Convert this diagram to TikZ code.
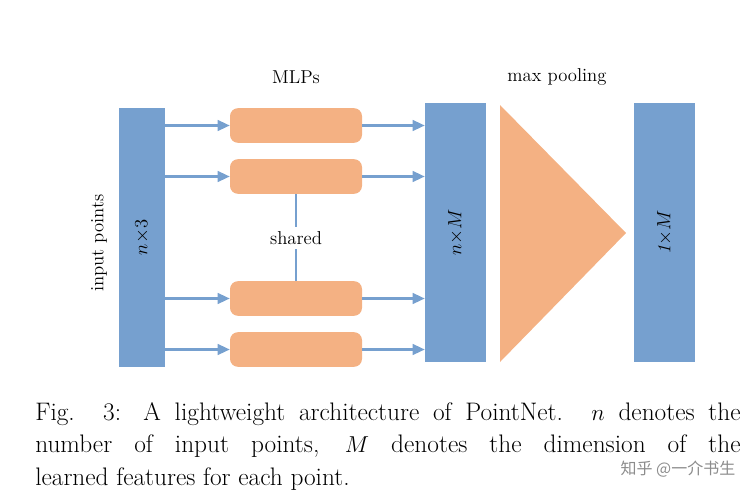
\documentclass[tikz,border=0pt]{standalone}
\usepackage{fontspec}
\newfontfamily\cjk{Noto Sans CJK SC}
\usetikzlibrary{positioning,arrows.meta}
\definecolor{barblue}{HTML}{76A0CF}
\definecolor{mlporange}{HTML}{F4B183}
\begin{document}
\begin{tikzpicture}[x=0.75pt,y=-0.75pt]
        \tikzstyle{bar}=[rectangle, fill=barblue, inner sep=0pt]
        \tikzstyle{mlp}=[rectangle, rounded corners=6pt, fill=mlporange, minimum width=99pt, minimum height=26pt, inner sep=0pt]
        \tikzstyle{flow}=[-{Triangle[length=9pt,width=8pt]}, draw=barblue, line width=1.6pt]
        \tikzstyle{lbl}=[font=\fontsize{14}{16}\selectfont]
        \useasboundingbox (0,0) rectangle (756,503);

        % Input points
        \node (inp) [bar, minimum width=34.5pt, minimum height=194pt] at (142,237.5) {};
        \node [lbl, rotate=90] at (inp.center) {$n$$\times$3};
        \node (inlbl) [lbl, rotate=90] at (99,243) {input points};

        % MLPs
        \node (mlpa) [mlp] at (296,125.5) {};
        \node (mlpb) [mlp] at (296,176.5) {};
        \node (mlpc) [mlp] at (296,298.5) {};
        \node (mlpd) [mlp] at (296,349.5) {};
        \node (mlps) [lbl] at (296,77) {MLPs};
        \node (shared) [lbl] at (296,238) {shared};
        \draw[barblue, line width=1.2pt] (mlpb) -- (shared);
        \draw[barblue, line width=1.2pt] (shared) -- (mlpc);

        % Features
        \node (feat) [bar, minimum width=45.75pt, minimum height=194pt] at (455.5,232.5) {};
        \node [lbl, rotate=90] at (feat.center) {$n$$\times$$M$};

        % Max pooling
        \node (pool) [lbl] at (557,77) {max pooling};
        \fill[mlporange] (500,105) coordinate (pa) -- (500,362) -- (626,233) coordinate (pb) -- cycle;

        % Global feature
        \node (glob) [bar, minimum width=45.75pt, minimum height=194pt] at (664.5,232.5) {};
        \node [lbl, rotate=90] at (glob.center) {\textit{1}$\times$$M$};

        % Arrows
        \foreach \m in {mlpa,mlpb,mlpc,mlpd} {
            \draw[flow] (inp.east |- \m) -- (\m.west);
            \draw[flow] (\m.east) -- (feat.west |- \m);
        }

        % Caption
        \node (cap) [anchor=north west, text width=529pt, align=justify, inner sep=0pt,
            font=\fontsize{19}{24.5}\selectfont] at (35,402)
            {Fig. 3: A lightweight architecture of PointNet. $n$ denotes the\linebreak number of input points, $M$ denotes the dimension of the\linebreak learned features for each point.};
        \node (mark) [anchor=east, text=black!45, font=\cjk\fontsize{12}{14}\selectfont] at (740,469) {知乎 @一介书生};
\end{tikzpicture}
\end{document}
